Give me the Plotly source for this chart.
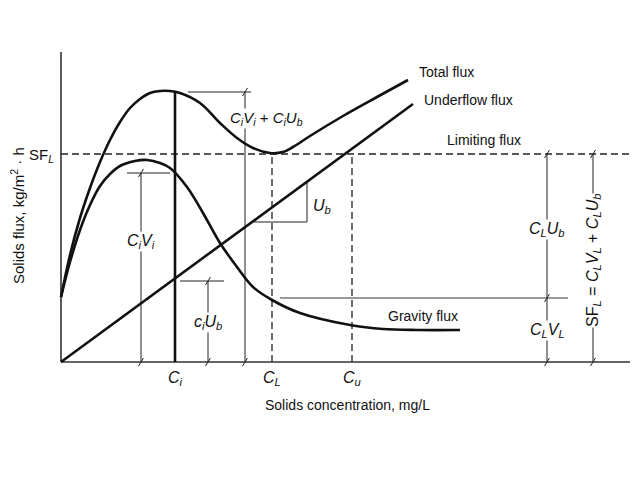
import plotly.graph_objects as go

# ---- data (arbitrary units: concentration vs solids flux) ----
total_conc = [0, 9, 19, 29, 39, 49, 59, 69, 79, 89, 99, 109, 119, 139, 159, 176, 192, 209, 222, 232, 249, 282, 316, 347]
total_flux = [65, 107, 144, 174, 200, 222, 240, 254, 263, 269, 271, 271, 269, 259, 239, 224, 214, 209, 210, 215, 226, 246, 265, 282]

gravity_conc = [0, 9, 19, 29, 39, 49, 59, 74, 86, 99, 109, 126, 142, 159, 176, 192, 211, 239, 289, 322, 356, 399]
gravity_flux = [65, 100, 132, 157, 176, 188, 196, 201, 202, 199, 194, 175, 149, 119, 95, 75, 62, 49, 37, 33, 32, 32]

underflow_conc = [0, 352]
underflow_flux = [0, 258]

C_i, C_L, C_u = 114, 211, 291
SF_L = 208
CiVi = 189
ciUb = 81
CLVL = 64
total_peak = 271
x_max, y_max = 572, 310

# ---- figure ----
BODY = 8              # default page margin around the plot div
X0, Y0 = 61 - BODY, 362 - BODY  # pixel position of origin inside the figure
W, H = 638 - 2 * BODY, 479 - 2 * BODY

fig = go.Figure()

BLACK = "#111111"
fig.add_trace(go.Scatter(x=total_conc, y=total_flux, mode="lines",
                         line=dict(color=BLACK, width=2.6, shape="spline", smoothing=1.0),
                         hoverinfo="skip", showlegend=False))
fig.add_trace(go.Scatter(x=gravity_conc, y=gravity_flux, mode="lines",
                         line=dict(color=BLACK, width=2.6, shape="spline", smoothing=1.0),
                         hoverinfo="skip", showlegend=False))
fig.add_trace(go.Scatter(x=underflow_conc, y=underflow_flux, mode="lines",
                         line=dict(color=BLACK, width=2.6),
                         hoverinfo="skip", showlegend=False))

shapes = []


def seg(x0, y0, x1, y1, width=1.0, color="#222222", dash="solid"):
    shapes.append(dict(type="line", xref="x", yref="y", x0=x0, y0=y0, x1=x1, y1=y1,
                       line=dict(color=color, width=width, dash=dash), layer="below"))


def slash(x, y):
    seg(x - 2.5, y - 4, x + 2.5, y + 4, width=1.0)


# axes
seg(0, 0, x_max, 0, width=1.6, color="#333333")
seg(0, 0, 0, y_max, width=1.6, color="#333333")

# limiting flux dashed line
DASH = "7px,4px"
seg(0, SF_L, 569, SF_L, width=1.3, color="#222222", dash=DASH)
seg(C_L, 0, C_L, SF_L, width=1.3, color="#222222", dash=DASH)
seg(C_u, 0, C_u, SF_L, width=1.3, color="#222222", dash=DASH)

# thick C_i line
seg(C_i, 0, C_i, total_peak, width=2.6, color=BLACK)

# C_i V_i dimension
seg(80, 0, 80, CiVi)
seg(66, CiVi, 109, CiVi)
slash(80, 0)
slash(80, CiVi)

# c_i U_b dimension
seg(147, 0, 147, ciUb)
seg(119, ciUb, 163, ciUb)
slash(147, 0)
slash(147, ciUb)

# total dimension
seg(184, 0, 184, 270)
seg(127, 270, 190, 270)
slash(184, 0)
slash(184, 270)

# U_b slope triangle
seg(193, 140, 246, 140)
seg(246, 140, 246, 179)

# gravity flux level line
seg(219, CLVL, 507, CLVL, width=1.3, color="#777777")

# C_L dims at right
seg(486, 0, 486, SF_L)
slash(486, 0)
slash(486, CLVL)
slash(486, SF_L)

# SF_L total dim
seg(532, 0, 532, SF_L)
slash(532, 0)
slash(532, SF_L)

FONT = "Liberation Sans, Arial, sans-serif"
anns = []


def label(x, y, text, size=13, xanchor="center", angle=0, bg=None):
    d = dict(x=x, y=y, xref="x", yref="y", text=text, showarrow=False,
             font=dict(family=FONT, size=size, color="#111111"),
             xanchor=xanchor, yanchor="middle", textangle=angle, borderpad=0)
    if bg:
        d["bgcolor"] = bg
    anns.append(d)


label(357, 290, "Total flux", size=14, xanchor="left")
label(362, 262, "Underflow flux", size=14, xanchor="left")
label(385, 222, "Limiting flux", size=14, xanchor="left")
label(362, 46, "Gravity flux", size=14)

label(205, 244, "<i>C<sub>i</sub>V<sub>i</sub></i> + <i>C<sub>i</sub>U<sub>b</sub></i>", size=15, bg="white")
label(80, 121, "<i>C<sub>i</sub>V<sub>i</sub></i>", size=16, bg="white")
label(147, 40, "<i>c<sub>i</sub>U<sub>b</sub></i>", size=16, bg="white")
label(261, 156, "<i>U<sub>b</sub></i>", size=16)
label(486, 133, "<i>C<sub>L</sub>U<sub>b</sub></i>", size=16, bg="white")
label(486, 32, "<i>C<sub>L</sub>V<sub>L</sub></i>", size=16, bg="white")
label(532, 101, "SF<sub><i>L</i></sub> = <i>C<sub>L</sub>V<sub>L</sub></i> + <i>C<sub>L</sub>U<sub>b</sub></i>",
      size=16, angle=-90, bg="white")
label(-20, 207, "SF<sub><i>L</i></sub>", size=15)

label(C_i, -16, "<i>C<sub>i</sub></i>", size=16)
label(C_L, -16, "<i>C<sub>L</sub></i>", size=16)
label(C_u, -16, "<i>C<sub>u</sub></i>", size=16)

label(286, -43, "Solids concentration, mg/L", size=14)
label(-44, 146, "Solids flux, kg/m<sup>2</sup> · h", size=15, angle=-90)

fig.update_layout(
    width=W, height=H, autosize=False,
    margin=dict(l=0, r=0, t=0, b=0),
    paper_bgcolor="white", plot_bgcolor="white",
    xaxis=dict(range=[-X0, W - X0], visible=False, fixedrange=True),
    yaxis=dict(range=[Y0 - H, Y0], visible=False, fixedrange=True),
    shapes=shapes, annotations=anns, showlegend=False,
)

fig.write_html("out.html")
